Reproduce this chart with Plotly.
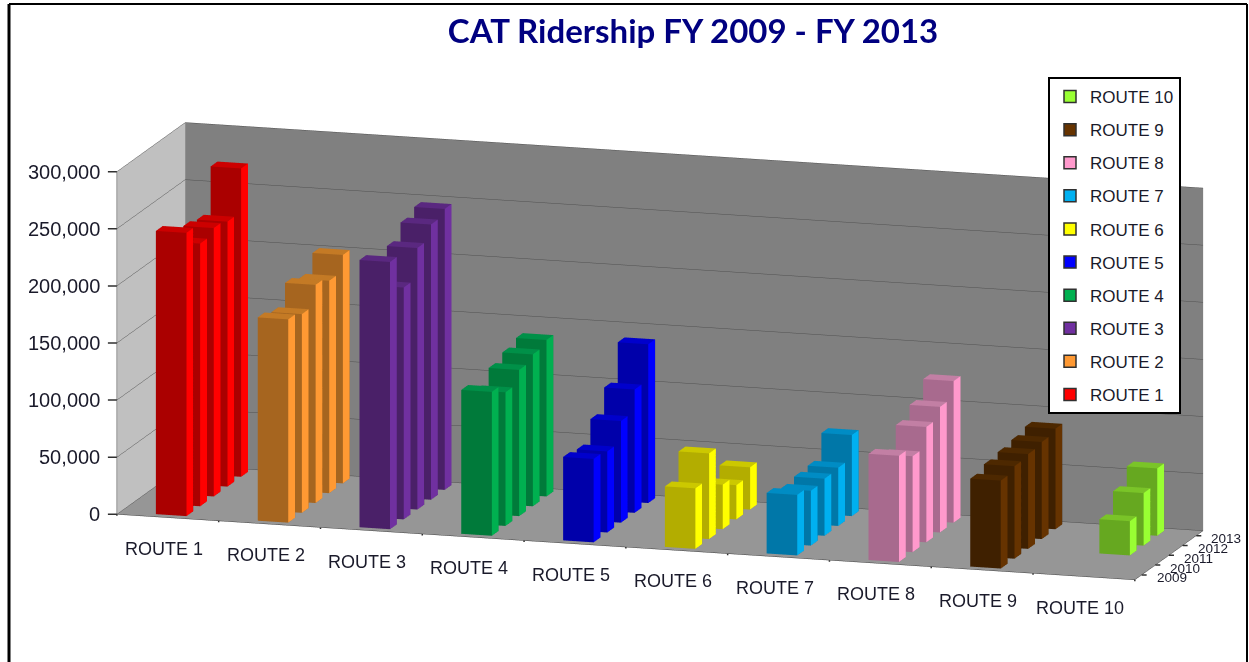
import plotly.graph_objects as go

routes = ["ROUTE 1", "ROUTE 2", "ROUTE 3", "ROUTE 4", "ROUTE 5",
          "ROUTE 6", "ROUTE 7", "ROUTE 8", "ROUTE 9", "ROUTE 10"]
years = ["2009", "2010", "2011", "2012", "2013"]
z_ticks = [0, 50000, 100000, 150000, 200000, 250000, 300000]
z_labels = ["0", "50,000", "100,000", "150,000", "200,000", "250,000", "300,000"]

route_1 = [248000, 230000, 235000, 232000, 270000]
route_2 = [178000, 174000, 191000, 186000, 200000]
route_3 = [234000, 203000, 229000, 241000, 246000]
route_4 = [126000, 117000, 128000, 133000, 137000]
route_5 = [73000, 71000, 89000, 108000, 139000]
route_6 = [53000, 75000, 39000, 30000, 37000]
route_7 = [53000, 48000, 50000, 51000, 71000]
route_8 = [93000, 84000, 101000, 110000, 124000]
route_9 = [77000, 81000, 83000, 85000, 88000]
route_10 = [None, None, 30000, 46000, 59000]
ridership = [route_1, route_2, route_3, route_4, route_5,
             route_6, route_7, route_8, route_9, route_10]

side_colors = ["#FF0000", "#FF9933", "#7030A0", "#00B050", "#0000FF",
               "#FFFF00", "#00B0F0", "#FF99CC", "#663300", "#99FF33"]
front_colors = ["#AA0000", "#A6651F", "#4A2068", "#007A3A", "#0000AA",
                "#B3AD00", "#0077A8", "#A86A8E", "#3F2000", "#66A820"]
top_colors = ["#CC0000", "#C47A25", "#5A2880", "#009048", "#0000CC",
              "#CCC800", "#008CC4", "#C27FA4", "#4D2800", "#7AC428"]

BAR_W = 0.30
BAR_D = 0.50


def box_mesh(route_idx, values, side, front, top):
    xs, ys, zs, ii, jj, kk, cols = [], [], [], [], [], [], []
    for yr, v in enumerate(values):
        if v is None:
            continue
        n = len(xs)
        x0, x1 = route_idx + 0.5 - BAR_W / 2, route_idx + 0.5 + BAR_W / 2
        y0, y1 = yr + 0.5 - BAR_D / 2, yr + 0.5 + BAR_D / 2
        for z in (0, v):
            xs += [x0, x1, x1, x0]
            ys += [y0, y0, y1, y1]
            zs += [z, z, z, z]
        quads = [((0, 1, 5, 4), front), ((1, 2, 6, 5), side), ((4, 5, 6, 7), top),
                 ((3, 2, 6, 7), front), ((0, 3, 7, 4), front), ((0, 1, 2, 3), front)]
        for (a, b, c, d), col in quads:
            ii += [n + a, n + a]
            jj += [n + b, n + c]
            kk += [n + c, n + d]
            cols += [col, col]
    return xs, ys, zs, ii, jj, kk, cols


fig = go.Figure()
for r, name in enumerate(routes):
    xs, ys, zs, ii, jj, kk, cols = box_mesh(r, ridership[r], side_colors[r],
                                            front_colors[r], top_colors[r])
    fig.add_trace(go.Mesh3d(
        x=xs, y=ys, z=zs, i=ii, j=jj, k=kk, facecolor=cols, color=side_colors[r],
        flatshading=True, name=name, showlegend=False,
        lighting=dict(ambient=1, diffuse=0, specular=0, roughness=1, fresnel=0),
        hoverinfo="name+z",
    ))
for r in reversed(range(len(routes))):
    fig.add_trace(go.Scatter(
        x=[None], y=[None], mode="markers", name=routes[r], legendgroup=routes[r],
        marker=dict(symbol="square", size=12, color=side_colors[r],
                    line=dict(color="#303030", width=1.5)),
    ))

ink = "#1A1A2A"
sans = "Liberation Sans"
tick_color = "#303030"
annotations = []
# category labels, under the front floor edge
for i, name in enumerate(routes):
    annotations.append(dict(x=i + 0.5, y=0, z=0, text=name, showarrow=False,
                            xanchor="center", yanchor="middle", xshift=-4, yshift=-31,
                            font=dict(family=sans, size=18, color=ink)))
# category boundary ticks
for i in range(len(routes) + 1):
    annotations.append(dict(x=i, y=0, z=0, text=" ", showarrow=True, arrowhead=0,
                            arrowwidth=1.5, arrowcolor=tick_color, ax=0, ay=10))
# value labels and ticks on the front-left edge
for v, label in zip(z_ticks, z_labels):
    annotations.append(dict(x=0, y=0, z=v, text=label, showarrow=False,
                            xanchor="right", yanchor="middle", xshift=-15,
                            font=dict(family=sans, size=20, color=ink)))
    annotations.append(dict(x=0, y=0, z=v, text=" ", showarrow=True, arrowhead=0,
                            arrowwidth=1.5, arrowcolor=tick_color, ax=-12, ay=0))
# year labels and ticks along the right floor edge
for j, year in enumerate(years):
    annotations.append(dict(x=10, y=j + 0.5, z=0, text=year, showarrow=False,
                            xanchor="left", yanchor="middle", xshift=13, yshift=-3,
                            font=dict(family=sans, size=13.5, color=ink)))
    annotations.append(dict(x=10, y=j + 0.5, z=0, text=" ", showarrow=True, arrowhead=0,
                            arrowwidth=1.5, arrowcolor=tick_color, ax=8, ay=0))

cx, cy, cz = -0.106, -0.020, 0.060
fig.update_layout(
    width=1249, height=662,
    margin=dict(l=0, r=0, t=0, b=0),
    paper_bgcolor="white",
    plot_bgcolor="rgba(0,0,0,0)",
    font=dict(family=sans),
    xaxis=dict(visible=False),
    yaxis=dict(visible=False),
    title=dict(text="<b>CAT Ridership FY 2009 - FY 2013</b>", x=693 / 1249, xanchor="center",
               y=1 - 31 / 662, yanchor="middle",
               font=dict(family="Lato", size=33, color="#000080")),
    legend=dict(x=1048 / 1249, y=1 - 77 / 662, xanchor="left", yanchor="top",
                bgcolor="white", bordercolor="black", borderwidth=2,
                traceorder="grouped", tracegroupgap=8,
                entrywidth=84, entrywidthmode="pixels",
                font=dict(family=sans, size=17, color=ink)),
    scene=dict(
        domain=dict(x=[0, 1], y=[0, 1]),
        aspectmode="manual",
        aspectratio=dict(x=3.21, y=0.72, z=1.06),
        camera=dict(projection=dict(type="orthographic"),
                    eye=dict(x=0.523 + cx, y=-1.748 + cy, z=0.402 + cz),
                    center=dict(x=cx, y=cy, z=cz),
                    up=dict(x=0, y=0, z=1)),
        annotations=annotations,
        xaxis=dict(title="", range=[0, 10], tickmode="array",
                   tickvals=[i + 0.5 for i in range(10)], ticktext=routes, showticklabels=False,
                   showgrid=False, zeroline=False,
                   showbackground=True, backgroundcolor="#C0C0C0",
                   showline=True, linecolor="#404040", showspikes=False, ticks=""),
        yaxis=dict(title="", range=[0, 5], tickmode="array",
                   tickvals=[i + 0.5 for i in range(5)], ticktext=years, showticklabels=False,
                   showgrid=False, zeroline=False, showbackground=True,
                   backgroundcolor="#808080", showline=True, linecolor="#404040",
                   showspikes=False, ticks=""),
        zaxis=dict(title="", range=[0, 300000], tickmode="array",
                   tickvals=z_ticks, ticktext=z_labels, showticklabels=False,
                   showgrid=True, gridcolor="#505050", gridwidth=1,
                   zeroline=False, showbackground=True, backgroundcolor="#969696",
                   showline=True, linecolor="#404040", showspikes=False, ticks=""),
    ),
    shapes=[
        dict(type="line", xref="paper", yref="paper", x0=9 / 1249, x1=9 / 1249, y0=0, y1=1 - 4 / 662,
             line=dict(color="black", width=3)),
        dict(type="line", xref="paper", yref="paper", x0=9 / 1249, x1=1247 / 1249,
             y0=1 - 4 / 662, y1=1 - 4 / 662, line=dict(color="black", width=2)),
        dict(type="line", xref="paper", yref="paper", x0=1247 / 1249, x1=1247 / 1249,
             y0=0, y1=1 - 4 / 662, line=dict(color="black", width=2)),
    ],
)
fig.write_html("out.html", config={"displayModeBar": False},
               post_script="document.body.style.margin='0';document.body.style.overflow='hidden';")
